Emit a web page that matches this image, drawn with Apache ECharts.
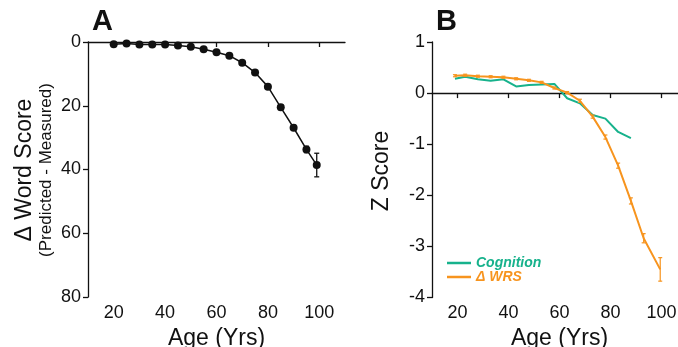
<!DOCTYPE html>
<html>
<head>
<meta charset="utf-8">
<script src="https://cdn.jsdelivr.net/npm/echarts@6/dist/echarts.min.js"></script>
<style>
  html, body { margin: 0; padding: 0; background: #fff; }
  #chart { width: 678px; height: 347px; }
</style>
</head>
<body>
<div id="chart"></div>
<script>
// Panel A: age vs. difference between predicted and measured word score
var ageA = [20, 25, 30, 35, 40, 45, 50, 55, 60, 65, 70, 75, 80, 85, 90, 95, 99];
var deltaWord = [0.7, 0.5, 0.8, 0.8, 0.8, 1.1, 1.5, 2.3, 3.2, 4.3, 6.5, 9.6, 14.0, 20.5, 26.9, 33.7, 38.6];
var deltaWordErr = [0.3, 0.3, 0.3, 0.3, 0.3, 0.3, 0.3, 0.3, 0.3, 0.4, 0.4, 0.5, 0.6, 0.7, 0.8, 1.0, 3.7];

// Panel B: z-scored cognition and word-recognition change by age
var ageCog = [19, 23, 28, 33, 38, 43, 48, 53, 58, 63, 68, 73, 78, 83, 88];
var zCognition = [0.28, 0.32, 0.27, 0.24, 0.27, 0.13, 0.16, 0.17, 0.18, -0.10, -0.20, -0.43, -0.50, -0.76, -0.88];
var ageWrs = [19, 23, 28, 33, 38, 43, 48, 53, 58, 63, 68, 73, 78, 83, 88, 93, 99.5];
var zWrs = [0.34, 0.35, 0.33, 0.32, 0.31, 0.28, 0.25, 0.21, 0.10, 0.01, -0.15, -0.46, -0.86, -1.42, -2.11, -2.84, -3.45];
var zWrsErr = [0.02, 0.02, 0.02, 0.02, 0.02, 0.02, 0.02, 0.02, 0.02, 0.02, 0.03, 0.03, 0.04, 0.05, 0.06, 0.09, 0.23];

var xTicks = [20, 40, 60, 80, 100];
var yTicksA = [0, 20, 40, 60, 80];
var yTicksB = [1, 0, -1, -2, -3, -4];

var GREEN = '#17b28c';
var ORANGE = '#f7941e';
var FONT = '"Liberation Sans", Arial, sans-serif';

function pairs(xs, ys) {
  return xs.map(function (x, i) { return [x, ys[i]]; });
}
function errRows(xs, ys, es) {
  return xs.map(function (x, i) { return [x, ys[i] - es[i], ys[i] + es[i]]; });
}
function errorBarRenderer(color, width, cap) {
  return function (params, api) {
    var lo = api.coord([api.value(0), api.value(1)]);
    var hi = api.coord([api.value(0), api.value(2)]);
    var st = { stroke: color, lineWidth: width };
    return {
      type: 'group',
      children: [
        { type: 'line', shape: { x1: lo[0], y1: lo[1], x2: hi[0], y2: hi[1] }, style: st },
        { type: 'line', shape: { x1: lo[0] - cap, y1: lo[1], x2: lo[0] + cap, y2: lo[1] }, style: st },
        { type: 'line', shape: { x1: hi[0] - cap, y1: hi[1], x2: hi[0] + cap, y2: hi[1] }, style: st }
      ]
    };
  };
}

function xAxisFor(gridIndex) {
  return {
    type: 'value', gridIndex: gridIndex, min: 10, max: 110,
    name: 'Age (Yrs)', nameLocation: 'middle', nameGap: 26,
    nameTextStyle: { fontSize: 23, color: '#111', fontFamily: FONT },
    axisLine: { show: true, lineStyle: { color: '#111', width: 1.3 } },
    axisTick: { show: true, length: 5, customValues: xTicks, lineStyle: { color: '#111', width: 1.3 } },
    axisLabel: { customValues: xTicks, margin: 7, fontSize: 18, color: '#111', fontFamily: FONT },
    splitLine: { show: false }
  };
}
function yAxisFor(gridIndex, opts) {
  return Object.assign({
    type: 'value', gridIndex: gridIndex,
    axisLine: { show: true, lineStyle: { color: '#111', width: 1.3 } },
    axisTick: { show: true, length: 5, lineStyle: { color: '#111', width: 1.3 } },
    splitLine: { show: false }
  }, opts);
}

var chart = echarts.init(document.getElementById('chart'), null, { renderer: 'canvas' });

chart.setOption({
  animation: false,
  backgroundColor: '#fff',
  textStyle: { fontFamily: FONT },
  grid: [
    { left: 88, top: 42, width: 257, height: 255, containLabel: false, outerBoundsMode: 'none' },
    { left: 432, top: 42, width: 255, height: 255.5, containLabel: false, outerBoundsMode: 'none' }
  ],
  xAxis: [xAxisFor(0), xAxisFor(1)],
  yAxis: [
    yAxisFor(0, { min: 0, max: 80, interval: 20, inverse: true,
      axisLabel: { customValues: yTicksA, margin: 7, fontSize: 18, color: '#111', fontFamily: FONT } }),
    yAxisFor(1, { min: -4, max: 1, interval: 1,
      axisLabel: { customValues: yTicksB, margin: 7, fontSize: 18, color: '#111', fontFamily: FONT } })
  ],
  legend: {
    orient: 'vertical', left: 447, top: 256,
    itemWidth: 24, itemHeight: 2.5, itemGap: 0, icon: 'rect',
    padding: 0,
    textStyle: { fontSize: 14, fontWeight: 'bold', fontStyle: 'italic', lineHeight: 14, fontFamily: FONT },
    data: [
      { name: 'Cognition', textStyle: { color: GREEN } },
      { name: '\u0394 WRS', textStyle: { color: ORANGE } }
    ]
  },
  graphic: [
    { type: 'text', left: 92, top: 7,
      style: { text: 'A', font: 'bold 29px ' + FONT, fill: '#111' } },
    { type: 'text', left: 436, top: 7,
      style: { text: 'B', font: 'bold 29px ' + FONT, fill: '#111' } },
    { type: 'text', x: 25, y: 170, rotation: Math.PI / 2,
      style: { text: '\u0394 Word Score', font: '23px ' + FONT, fill: '#111', align: 'center', verticalAlign: 'middle' } },
    { type: 'text', x: 46, y: 170, rotation: Math.PI / 2,
      style: { text: '(Predicted - Measured)', font: '17px ' + FONT, fill: '#111', align: 'center', verticalAlign: 'middle' } },
    { type: 'text', x: 382, y: 171, rotation: Math.PI / 2,
      style: { text: 'Z Score', font: '23px ' + FONT, fill: '#111', align: 'center', verticalAlign: 'middle' } }
  ],
  series: [
    {
      name: 'deltaWordErr', type: 'custom', xAxisIndex: 0, yAxisIndex: 0,
      renderItem: errorBarRenderer('#111', 1.3, 2.5),
      data: errRows(ageA, deltaWord, deltaWordErr), z: 3
    },
    {
      name: 'deltaWord', type: 'line', xAxisIndex: 0, yAxisIndex: 0,
      data: pairs(ageA, deltaWord),
      symbol: 'circle', symbolSize: 8, showSymbol: true,
      lineStyle: { color: '#111', width: 1.5 },
      itemStyle: { color: '#111', borderWidth: 0 }, z: 4
    },
    {
      name: 'Cognition', type: 'line', xAxisIndex: 1, yAxisIndex: 1,
      data: pairs(ageCog, zCognition),
      symbol: 'none', lineStyle: { color: GREEN, width: 2 }, itemStyle: { color: GREEN }, z: 3
    },
    {
      name: '\u0394 WRS', type: 'line', xAxisIndex: 1, yAxisIndex: 1,
      data: pairs(ageWrs, zWrs),
      symbol: 'none', lineStyle: { color: ORANGE, width: 2 }, itemStyle: { color: ORANGE }, z: 4
    },
    {
      name: 'wrsErr', type: 'custom', xAxisIndex: 1, yAxisIndex: 1,
      renderItem: errorBarRenderer(ORANGE, 1.2, 2),
      data: errRows(ageWrs, zWrs, zWrsErr), z: 5
    }
  ]
});
</script>
</body>
</html>
